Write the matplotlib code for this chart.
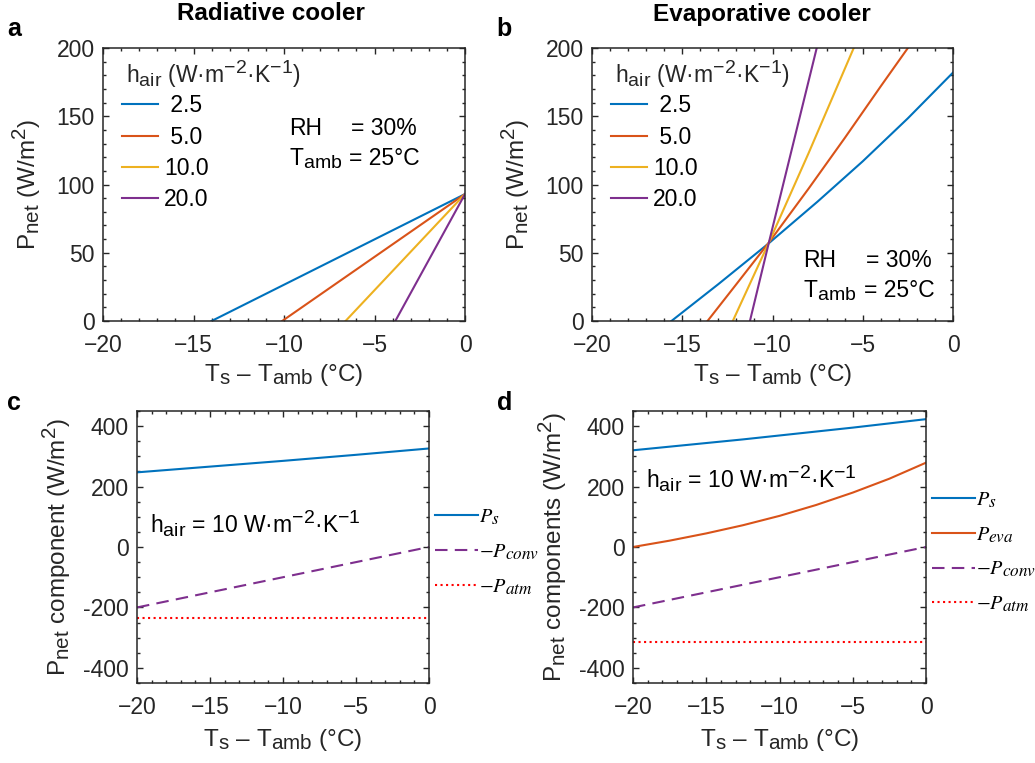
import matplotlib
matplotlib.use('Agg')
import matplotlib.pyplot as plt
import matplotlib._mathtext as mathtext_internal
from matplotlib.ticker import MultipleLocator, FuncFormatter
from matplotlib.font_manager import FontProperties

plt.rcParams['font.family'] = ['Liberation Sans', 'DejaVu Sans']
plt.rcParams['mathtext.fontset'] = 'custom'
plt.rcParams['mathtext.rm'] = 'Liberation Sans'
plt.rcParams['mathtext.it'] = 'Liberation Sans:italic'
plt.rcParams['mathtext.bf'] = 'Liberation Sans:bold'
plt.rcParams['axes.unicode_minus'] = True
# larger sub/superscripts
mathtext_internal.SHRINK_FACTOR = 0.85

INK = '#262626'

# h_air values for the top panels
h_labels = [' 2.5', ' 5.0', '10.0', '20.0']
h_colors = ['#0072BD', '#D95319', '#EDB120', '#7E2F8E']

# a: radiative cooler, net power vs T_s - T_amb
rad_dT = [[-14.0, 0.0], [-10.1, 0.0], [-6.6, 0.0], [-3.85, 0.0]]
rad_P = [[0, 93], [0, 93], [0, 93], [0, 93]]

# b: evaporative cooler, net power vs T_s - T_amb
evap_dT = [[-15.6, -13.0, -10.2, -7.5, -5.0, -2.5, 0.0],
           [-13.6, -12.0, -10.2, -8.0, -6.0, -4.0, -2.5, 0.0],
           [-12.2, -10.2, -8.0, -5.5, -4.0],
           [-11.25, -10.2, -7.55, -7.0]]
evap_P = [[0, 27, 57, 87.5, 117, 148.5, 182],
          [0, 27, 57.5, 97, 134, 172, 200, 249],
          [0, 57.5, 123, 200, 247],
          [0, 57.5, 200, 230]]

# c: radiative cooler components, h_air = 10
c_dT = [-20, -15, -10, -5, 0]
c_Ps = [247, 266, 285, 305, 326]
c_Pconv = [-200, -150, -100, -50, 0]
c_Patm = [-236, -236, -236, -236, -236]

# d: evaporative cooler components, h_air = 10
d_dT = [-20, -17.5, -15, -12.5, -10, -7.5, -5, -2.5, 0]
d_Ps = [320, 332, 344, 356, 369, 382, 395, 409, 423]
d_Peva = [0, 21, 45, 72, 103, 139, 180, 226, 279]
d_Pconv = [-200, -175, -150, -125, -100, -75, -50, -25, 0]
d_Patm = [-313, -313, -313, -313, -313, -313, -313, -313, -313]

W, H = 1035, 763
fig = plt.figure(figsize=(W / 100, H / 100), dpi=100)


def addAxes(x0, y0, x1, y1):
    # pixel box (left, top, right, bottom) -> figure fraction
    return fig.add_axes([x0 / W, 1 - y1 / H, (x1 - x0) / W, (y1 - y0) / H])


def styleAxes(ax, ymaj, ymin, ylim, ylabel, ylab_x, xlab_pad):
    ax.set_xlim(-20, 0)
    ax.set_ylim(*ylim)
    ax.xaxis.set_major_locator(MultipleLocator(5))
    ax.xaxis.set_minor_locator(MultipleLocator(1))
    ax.yaxis.set_major_locator(MultipleLocator(ymaj))
    ax.yaxis.set_minor_locator(MultipleLocator(ymin))
    ax.yaxis.set_major_formatter(FuncFormatter(lambda v, p: f'{v:g}'))
    ax.tick_params(which='both', direction='in', top=True, right=True,
                   colors=INK, labelsize=16.5, width=1.0)
    ax.tick_params(which='major', length=4.5)
    ax.tick_params(which='minor', length=2.5)
    ax.tick_params(axis='x', which='major', pad=9)
    ax.tick_params(axis='y', which='major', pad=6)
    for s in ax.spines.values():
        s.set_color(INK)
        s.set_linewidth(1.1)
    ax.set_xlabel(r'T$_\mathrm{s}$ – T$_\mathrm{amb}$ (°C)', fontsize=17.5,
                  color=INK, labelpad=xlab_pad)
    ax.set_ylabel(ylabel, fontsize=17.5, color=INK)
    ax.yaxis.set_label_coords(ylab_x, 0.5)


def topPanel(ax, xs, ys):
    for x, y, lab, col in zip(xs, ys, h_labels, h_colors):
        ax.plot(x, y, color=col, lw=1.5, label=lab)
    ax.text(0.064, 0.872, r'h$_\mathrm{air}$ (W·m$^{-2}$·K$^{-1}$)',
            transform=ax.transAxes, fontsize=16.5, color=INK, va='baseline')
    ax.legend(loc='upper left', bbox_to_anchor=(0.052, 0.83),
              frameon=False, fontsize=16.5,
              handlelength=1.6, handletextpad=0.25, labelspacing=0.36,
              borderpad=0, borderaxespad=0)


def rhText(ax, x, x_eq, y1, y2):
    kw = dict(transform=ax.transAxes, fontsize=16.5, color='black', va='baseline')
    ax.text(x, y1, 'RH', **kw)
    ax.text(x_eq, y1, '= 30%', **kw)
    ax.text(x, y2, r'T$_\mathrm{amb}$', **kw)
    ax.text(x_eq - 0.006, y2, '= 25°C', **kw)


# a
axA = addAxes(103, 48, 465, 321)
topPanel(axA, rad_dT, rad_P)
styleAxes(axA, 50, 10, (0, 200), r'P$_\mathrm{net}$ (W/m$^2$)', -0.165, 4)
rhText(axA, 0.514, 0.685, 0.68, 0.57)

# b
axB = addAxes(592, 48, 953, 321)
topPanel(axB, evap_dT, evap_P)
styleAxes(axB, 50, 10, (0, 200), r'P$_\mathrm{net}$ (W/m$^2$)', -0.165, 4)
rhText(axB, 0.585, 0.76, 0.198, 0.088)

# c and d legends use a serif italic math font
legProp = FontProperties(family='Liberation Serif', size=14.5, math_fontfamily='stix')

axC = addAxes(137, 411, 429, 683)
axC.plot(c_dT, c_Ps, color='#0072BD', lw=1.5, label=r'$P_s$')
axC.plot(c_dT, c_Pconv, color='#7E2F8E', lw=1.5, ls=(0, (6, 3.5)), label=r'$-P_{conv}$')
axC.plot(c_dT, c_Patm, color='red', lw=1.5, ls=':', label=r'$-P_{atm}$')
styleAxes(axC, 200, 50, (-450, 450), r'P$_\mathrm{net}$ component (W/m$^2$)', -0.22, 6)
axC.text(0.045, 0.551, r'h$_\mathrm{air}$ = 10 W·m$^{-2}$·K$^{-1}$',
         transform=axC.transAxes, fontsize=16.5, va='baseline')
axC.legend(loc='center left', bbox_to_anchor=(1.022, 0.48), frameon=False,
           prop=legProp, handlelength=2.1, handletextpad=0.05,
           labelspacing=0.75, borderpad=0, borderaxespad=0)

axD = addAxes(633, 411, 926, 683)
axD.plot(d_dT, d_Ps, color='#0072BD', lw=1.5, label=r'$P_s$')
axD.plot(d_dT, d_Peva, color='#D95319', lw=1.5, label=r'$P_{eva}$')
axD.plot(d_dT, d_Pconv, color='#7E2F8E', lw=1.5, ls=(0, (6, 3.5)), label=r'$-P_{conv}$')
axD.plot(d_dT, d_Patm, color='red', lw=1.5, ls=':', label=r'$-P_{atm}$')
styleAxes(axD, 200, 50, (-450, 450), r'P$_\mathrm{net}$ components (W/m$^2$)', -0.22, 6)
axD.text(0.045, 0.717, r'h$_\mathrm{air}$ = 10 W·m$^{-2}$·K$^{-1}$',
         transform=axD.transAxes, fontsize=16.5, va='baseline')
axD.legend(loc='center left', bbox_to_anchor=(1.022, 0.48), frameon=False,
           prop=legProp, handlelength=2.1, handletextpad=0.05,
           labelspacing=0.75, borderpad=0, borderaxespad=0)

# titles and panel letters
fig.text(271 / W, 1 - 14 / H, 'Radiative cooler', fontsize=17.5, weight='bold',
         ha='center', va='center')
fig.text(762 / W, 1 - 14 / H, 'Evaporative cooler', fontsize=17.5, weight='bold',
         ha='center', va='center')
for letter, (px, py) in zip('abcd', [(14, 29), (504, 29), (14, 403), (505, 403)]):
    fig.text(px / W, 1 - py / H, letter, fontsize=18, weight='bold',
             ha='center', va='center')

fig.savefig('out.png', dpi=100)
